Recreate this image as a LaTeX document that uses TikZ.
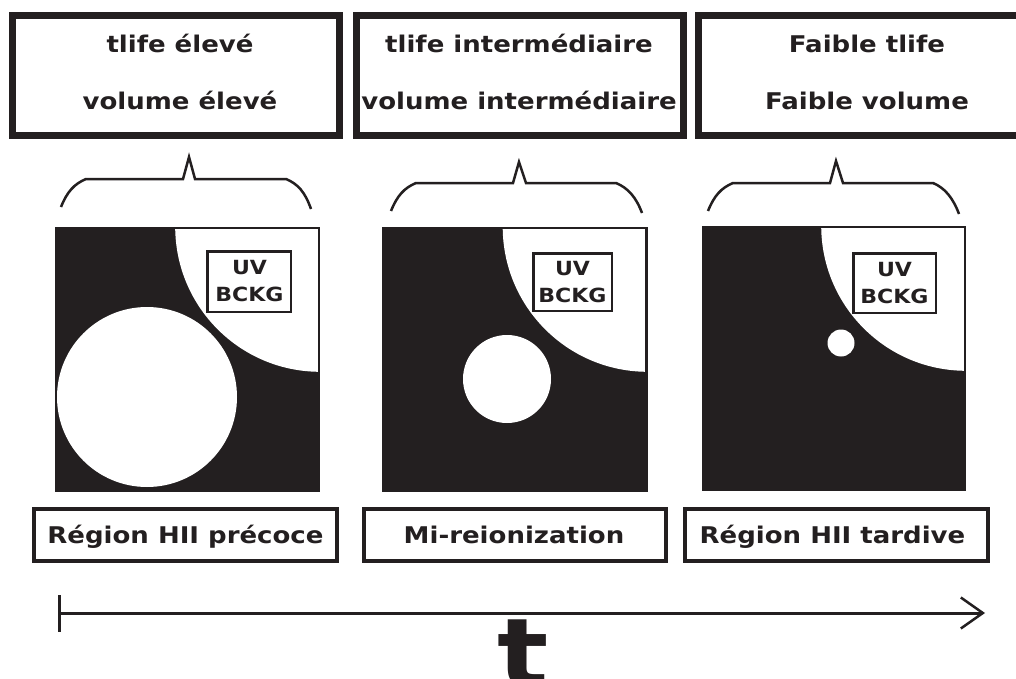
\documentclass[tikz,border=0pt]{standalone}
\usepackage{fontspec}
\usetikzlibrary{arrows.meta}
\newfontfamily\lab{DejaVu Sans}[FakeStretch=1.13]
\definecolor{ink}{RGB}{35,31,32}
\tikzset{
  topbox/.style={draw=ink, line width=7pt, minimum width=327pt, minimum height=120pt, inner sep=0pt},
  toptext/.style={anchor=base, font=\lab\bfseries\fontsize{23}{27}\selectfont, text=ink, inner sep=0pt},
  labbox/.style={draw=ink, line width=4pt, minimum height=52pt, inner sep=0pt},
  labtext/.style={anchor=base, font=\lab\bfseries\fontsize{23}{27}\selectfont, text=ink, inner sep=0pt},
  sqbox/.style={fill=ink, minimum width=265pt, minimum height=265pt, inner sep=0pt},
  sqline/.style={draw=ink, line width=2.5pt},
  uvbox/.style={draw=ink, fill=white, line width=2.5pt, inner sep=0pt},
  uvtext/.style={anchor=base, font=\lab\bfseries\fontsize{19.5}{22}\selectfont, text=ink, inner sep=0pt},
  brace/.style={draw=ink, line width=2.5pt, line join=miter},
}
\begin{document}
\begin{tikzpicture}[x=1pt,y=-1pt]
\clip (0,0) rectangle (1016,679);
\fill[white] (0,0) rectangle (1016,679);

% top boxes
\node[topbox] (b1) at (176,75.5) {};
\node[topbox] (b2) at (520,75.5) {};
\node[topbox, minimum width=328pt] (b3) at (862.5,75.5) {};
\node[toptext] (t1a) at (180,53) {tlife élevé};
\node[toptext] (t1b) at (180,110) {volume élevé};
\node[toptext] (t2a) at (519,53) {tlife intermédiaire};
\node[toptext] (t2b) at (519,110) {volume intermédiaire};
\node[toptext] (t3a) at (867,53) {Faible tlife};
\node[toptext] (t3b) at (867,110) {Faible volume};

% braces
\draw[brace] (61,207) .. controls (67,192) and (74,184) .. (86,179) -- (183,179) -- (189,157) -- (195,179) -- (286,179) .. controls (298,184) and (305,192) .. (311,209);
\draw[brace] (391,211) .. controls (397,196) and (404,188) .. (416,183) -- (513,183) -- (519,162) -- (526,183) -- (616,183) .. controls (628,188) and (636,197) .. (642,213);
\draw[brace] (708,211) .. controls (714,196) and (721,188) .. (733,183) -- (830,183) -- (836,161) -- (843,183) -- (933,183) .. controls (945,188) and (953,198) .. (959,214);

% squares
\node[sqbox] (s1) at (187.5,359.5) {};
\node[sqbox] (s2) at (515,359.5) {};
\node[sqbox, minimum width=264pt] (s3) at (834,358.5) {};
\foreach \s in {s1,s2,s3}{
  \begin{scope}
    \clip (\s.south west) rectangle (\s.north east);
    \fill[white] (\s.north east) circle (145);
  \end{scope}
  \draw[sqline] ([xshift=1.25pt,yshift=1.25pt]\s.south west) rectangle ([xshift=-1.25pt,yshift=-1.25pt]\s.north east);
}
\fill[white] (147,397) circle (90);
\fill[white] (507,379) circle (44);
\fill[white] (841,343) circle (13.5);

% UV boxes
\node[uvbox, minimum width=83.5pt, minimum height=60.5pt] (u1) at (249,281.5) {};
\node[uvbox, minimum width=78.5pt, minimum height=57.5pt] (u2) at (572.5,282) {};
\node[uvbox, minimum width=82.5pt, minimum height=59.5pt] (u3) at (894.5,283) {};
\node[uvtext] (u1a) at (249.5,274) {UV};
\node[uvtext] (u1b) at (249.5,301) {BCKG};
\node[uvtext] (u2a) at (572.5,275) {UV};
\node[uvtext] (u2b) at (572.5,302) {BCKG};
\node[uvtext] (u3a) at (894.5,276) {UV};
\node[uvtext] (u3b) at (894.5,303) {BCKG};

% bottom labels
\node[labbox, minimum width=303pt] (l1) at (185.5,535) {};
\node[labbox, minimum width=302pt] (l2) at (515,535) {};
\node[labbox, minimum width=303pt] (l3) at (836.5,534.5) {};
\node[labtext] (l1t) at (185.5,543) {Région HII précoce};
\node[labtext] (l2t) at (514,543) {Mi-reionization};
\node[labtext] (l3t) at (832.5,543) {Région HII tardive};

% time axis
\coordinate (a0) at (58,613);
\coordinate (a1) at (985,613);
\draw[ink, line width=3pt, {Bar[width=37pt,line width=2.5pt]}-{Straight Barb[length=22pt,width=31pt,line width=2.5pt]}] (a0) -- (a1);
\node[anchor=base, font=\lab\bfseries\fontsize{95}{95}\selectfont, text=ink, inner sep=0pt] (tt) at (523,686) {t};
\end{tikzpicture}
\end{document}
